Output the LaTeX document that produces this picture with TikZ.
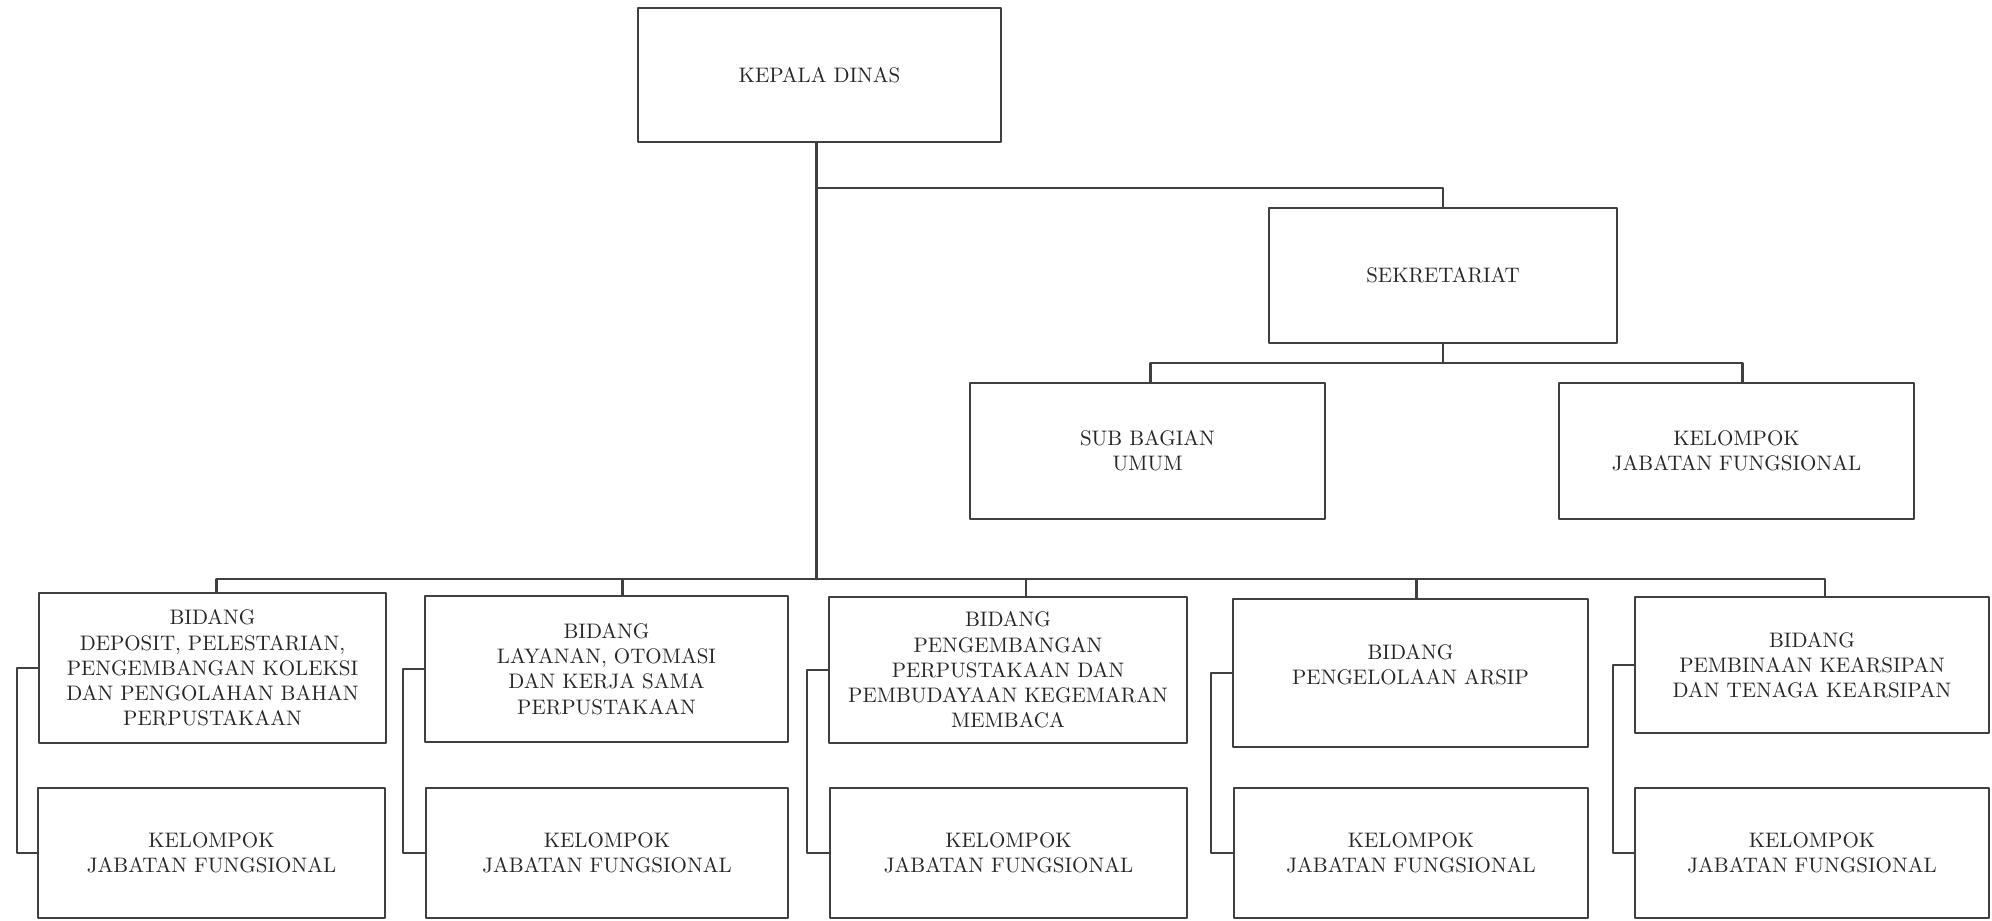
\documentclass[tikz,border=0pt]{standalone}
\usetikzlibrary{calc}
\begin{document}
\begin{tikzpicture}[x=.5pt, y=-.5pt, line join=round, line cap=round,
	font=\fontsize{10.5}{12.6}\selectfont, text=black!85,
	kotak/.style 2 args={draw=black!75, line width=1.2pt, align=center, inner sep=0pt,
		minimum width=#1*.5pt, minimum height=#2*.5pt},
	garis/.style={draw=black!75, line width=1.2pt}]
	\useasboundingbox (0,0) rectangle (1992,921);
	% pimpinan dan sekretariat
	\node[kotak={363}{134}] (kepala) at (819.5,75) {KEPALA DINAS};
	\node[kotak={348}{135}] (sekre) at (1443,275.5) {SEKRETARIAT};
	\node[kotak={355}{136}] (subbag) at (1147.5,451) {SUB BAGIAN\\UMUM};
	\node[kotak={355}{136}] (kjfs) at (1736.5,451) {KELOMPOK\\JABATAN FUNGSIONAL};
	% bidang
	\node[kotak={347}{150}] (bid1) at (212.5,668) {BIDANG\\DEPOSIT, PELESTARIAN,\\PENGEMBANGAN KOLEKSI\\DAN PENGOLAHAN BAHAN\\PERPUSTAKAAN};
	\node[kotak={363}{146}] (bid2) at (606.5,669) {BIDANG\\LAYANAN, OTOMASI\\DAN KERJA SAMA\\PERPUSTAKAAN};
	\node[kotak={358}{146}] (bid3) at (1008,670) {BIDANG\\PENGEMBANGAN\\PERPUSTAKAAN DAN\\PEMBUDAYAAN KEGEMARAN\\MEMBACA};
	\node[kotak={355}{148}] (bid4) at (1410.5,673) {BIDANG\\PENGELOLAAN ARSIP\\[-4pt]\mbox{}};
	\node[kotak={354}{136}] (bid5) at (1812,665) {BIDANG\\PEMBINAAN KEARSIPAN\\DAN TENAGA KEARSIPAN};
	% kelompok jabatan fungsional
	\foreach \i/\x/\w in {1/211.5/347,2/607/362,3/1008.5/357,4/1411/354,5/1812/354}
		\node[kotak={\w}{130}] (kjf\i) at (\x,853) {KELOMPOK\\JABATAN FUNGSIONAL};
	% garis komando
	\coordinate (bus) at ($(kepala.south)+(-3,436)$);
	\coordinate (cab) at ($(kepala.south)+(-3,45)$);
	\foreach \i/\s in {1/4,2/16,3/18,4/6,5/13}
		\coordinate (d\i) at ($(bid\i.north)+(\s,0)$);
	\draw[garis] ($(kepala.south)+(-3,0)$) -- (bus);
	\draw[garis] (d1) |- (bus) -| (d5);
	\foreach \i in {2,3,4} \draw[garis] (d\i) -- (d\i |- bus);
	\draw[garis] (cab) -| (sekre.north);
	\draw[garis] (sekre.south) -- ++(0,19) coordinate (sj);
	\draw[garis] ($(subbag.north)+(3,0)$) |- (sj) -| ($(kjfs.north)+(6,0)$);
	\foreach \i in {1,...,5} \draw[garis] (bid\i.west) -- ++(-21,0) |- (kjf\i.west);
\end{tikzpicture}
\end{document}
